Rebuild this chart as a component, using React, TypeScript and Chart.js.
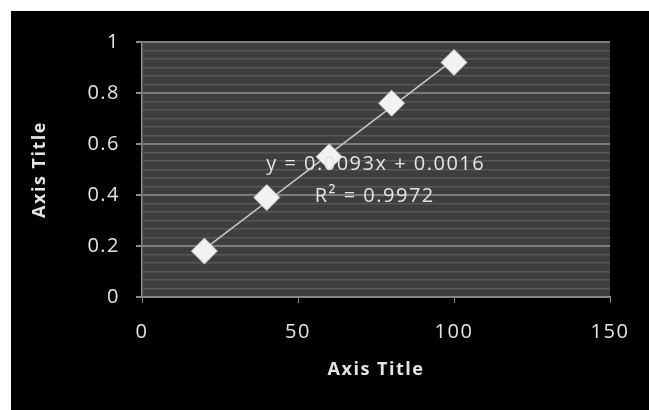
import React, { useEffect, useRef } from "react";
import { Chart, registerables } from "chart.js";

Chart.register(...registerables);

const xValues = [20, 40, 60, 80, 100];
const yValues = [0.18, 0.39, 0.55, 0.76, 0.92];
const trendSlope = 0.0093;
const trendIntercept = 0.0016;
const trendRange = [20, 100];
const equationText = "y = 0.0093x + 0.0016";
const rSquaredText = "R² = 0.9972";
const xAxisTitle = "Axis Title";
const yAxisTitle = "Axis Title";
const xTicks = { min: 0, max: 150, step: 50 };
const yTicks = { min: 0, max: 1, major: 0.2, minorPerMajor: 6 };

const FONT = "'Open Sans', sans-serif";
const TEXT = "#e4e4e4";
const SPACING = "1.5px";

const spacingPlugin = {
  id: "spacing",
  beforeUpdate(chart: any) { chart.ctx.letterSpacing = SPACING; },
  beforeDraw(chart: any) { chart.ctx.letterSpacing = SPACING; },
};

const bgPlugin = {
  id: "plotBg",
  beforeDraw(chart: any) {
    const { ctx, chartArea } = chart;
    ctx.save();
    ctx.fillStyle = "#3e3e3e";
    ctx.fillRect(chartArea.left, chartArea.top, chartArea.right - chartArea.left, chartArea.bottom - chartArea.top);
    ctx.restore();
  },
};

const labelPlugin = {
  id: "eqLabel",
  afterDatasetsDraw(chart: any) {
    const { ctx, scales } = chart;
    const x = scales.x, y = scales.y;
    ctx.save();
    ctx.letterSpacing = SPACING;
    ctx.fillStyle = TEXT;
    ctx.font = `20px ${FONT}`;
    ctx.textAlign = "center";
    ctx.textBaseline = "middle";
    ctx.fillText(equationText, x.getPixelForValue(74.9), y.getPixelForValue(0.522));
    ctx.fillText(rSquaredText, x.getPixelForValue(74.6), y.getPixelForValue(0.395));
    ctx.restore();
  },
};

export default function App() {
  const ref = useRef<HTMLCanvasElement>(null);
  useEffect(() => {
    const minorStep = yTicks.major / yTicks.minorPerMajor;
    const chart = new Chart(ref.current!, {
      type: "scatter",
      data: {
        datasets: [
          {
            label: "trend",
            type: "line",
            data: trendRange.map((v) => ({ x: v, y: trendSlope * v + trendIntercept })),
            borderColor: "#c8c8c8",
            borderWidth: 1.5,
            pointRadius: 0,
            showLine: true,
            order: 2,
          },
          {
            label: "data",
            data: xValues.map((v, i) => ({ x: v, y: yValues[i] })),
            pointStyle: "rectRot",
            pointRadius: 13,
            pointHoverRadius: 13,
            backgroundColor: "#f2f2f2",
            borderColor: "#c4c4c4",
            borderWidth: 1,
            order: 1,
          },
        ],
      },
      options: {
        animation: false,
        responsive: false,
        events: [],
        layout: { padding: { left: 0, top: 31, right: 39, bottom: 0 } },
        plugins: { legend: { display: false }, tooltip: { enabled: false } },
        scales: {
          x: {
            type: "linear",
            min: xTicks.min,
            max: xTicks.max,
            afterFit(s: any) { s.height = 113; },
            ticks: { stepSize: xTicks.step, color: TEXT, font: { family: FONT, size: 20 }, padding: 17, maxRotation: 0 },
            grid: { drawOnChartArea: false, drawTicks: true, tickLength: 6, color: "#8a8a8a" },
            border: { color: "#8a8a8a", width: 1.5 },
            title: { display: true, text: xAxisTitle, color: TEXT, font: { family: FONT, size: 18, weight: "bold" }, padding: { top: 0, bottom: 29 } },
          },
          y: {
            type: "linear",
            min: yTicks.min,
            max: yTicks.max,
            afterFit(s: any) { s.width = 131; },
            ticks: {
              stepSize: minorStep,
              maxTicksLimit: 1000,
              autoSkip: false,
              color: TEXT,
              font: { family: FONT, size: 20 },
              padding: 16,
              callback: (v: any, i: number) => (i % yTicks.minorPerMajor === 0 ? String(Math.round(Number(v) * 10) / 10) : ""),
            },
            grid: {
              color: (c: any) => (c.index % yTicks.minorPerMajor === 0 ? "#7c7c7c" : "#575757"),
              tickColor: (c: any) => (c.index % yTicks.minorPerMajor === 0 ? "#8a8a8a" : "transparent"),
              lineWidth: (c: any) => (c.index % yTicks.minorPerMajor === 0 ? 2 : 1.5),
              tickLength: 6,
            },
            border: { color: "#8a8a8a", width: 1.5 },
            title: { display: true, text: yAxisTitle, color: TEXT, font: { family: FONT, size: 18, weight: "bold" }, padding: { top: 18, bottom: 0 } },
          },
        },
      },
      plugins: [spacingPlugin, bgPlugin, labelPlugin],
    } as any);
    return () => chart.destroy();
  }, []);
  return (
    <div style={{ position: "fixed", left: 11, top: 11, width: 638, height: 399, background: "#000" }}>
      <canvas ref={ref} width={638} height={399} style={{ display: "block" }} />
    </div>
  );
}
